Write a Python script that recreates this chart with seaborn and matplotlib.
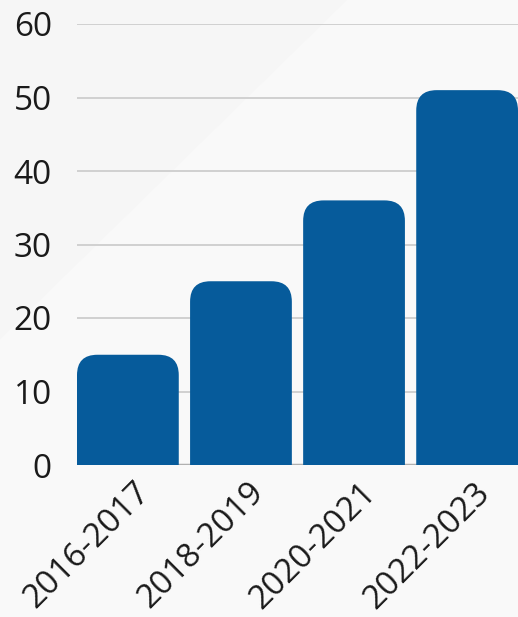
import seaborn as sns
import pandas as pd
from matplotlib import pyplot as plt
from matplotlib.patches import FancyBboxPatch, Polygon
from matplotlib.transforms import ScaledTranslation

periods = ["2016-2017", "2018-2019", "2020-2021", "2022-2023"]
values = [15, 25, 36, 51]

df = pd.DataFrame({"period": periods, "value": values})

sns.set_style("white")
plt.rcParams["font.family"] = ["Open Sans", "DejaVu Sans"]

fig = plt.figure(figsize=(5.18, 6.17), dpi=100, facecolor="#f6f6f6")
# faint diagonal light area in the background
fig.patches.append(Polygon([(0.0, 0.45), (0.67, 1.0), (1.0, 1.0), (1.0, 0.0), (0.0, 0.0)],
                           closed=True, transform=fig.transFigure,
                           facecolor="#f9f9f9", edgecolor="none", zorder=-1))
ax = fig.add_axes([77 / 518, 1 - 465 / 617, 441 / 518, 441 / 617])
ax.patch.set_alpha(0)

sns.barplot(data=df, x="period", y="value", color="#065b9b", width=0.9,
            saturation=1, ax=ax)

ax.set_xlim(-0.45, 3.45)
ax.set_ylim(0, 60)

# swap the plain bars for ones with rounded tops
aspect = (60 / 441) / (3.9 / 441)
for bar in list(ax.patches):
    x, w, h = bar.get_x(), bar.get_width(), bar.get_height()
    rounded = FancyBboxPatch((x, -6), w, h + 6,
                             boxstyle="round,pad=0,rounding_size=0.18",
                             mutation_aspect=aspect,
                             facecolor="#065b9b", edgecolor="none", zorder=3)
    bar.remove()
    ax.add_patch(rounded)

ax.set_yticks(range(0, 61, 10))
ax.yaxis.grid(True, color="#cacaca", linewidth=1.2)
ax.set_axisbelow(True)
ax.axhline(0, color="#b0b0b0", linewidth=2.5, zorder=1)
sns.despine(ax=ax, left=True, bottom=True, top=True, right=True)

ax.set_xlabel("")
ax.set_ylabel("")
ax.tick_params(axis="y", length=0, pad=18, labelsize=24, labelcolor="#1a1a1a")
ax.tick_params(axis="x", length=0, pad=8, labelsize=24, labelcolor="#1a1a1a")
plt.setp(ax.get_xticklabels(), rotation=45, ha="right", rotation_mode="anchor")
shift = ScaledTranslation(6 / 100, 0, fig.dpi_scale_trans)
for lbl in ax.get_xticklabels():
    lbl.set_transform(lbl.get_transform() + shift)

fig.savefig("out.png", dpi=100, facecolor=fig.get_facecolor())
